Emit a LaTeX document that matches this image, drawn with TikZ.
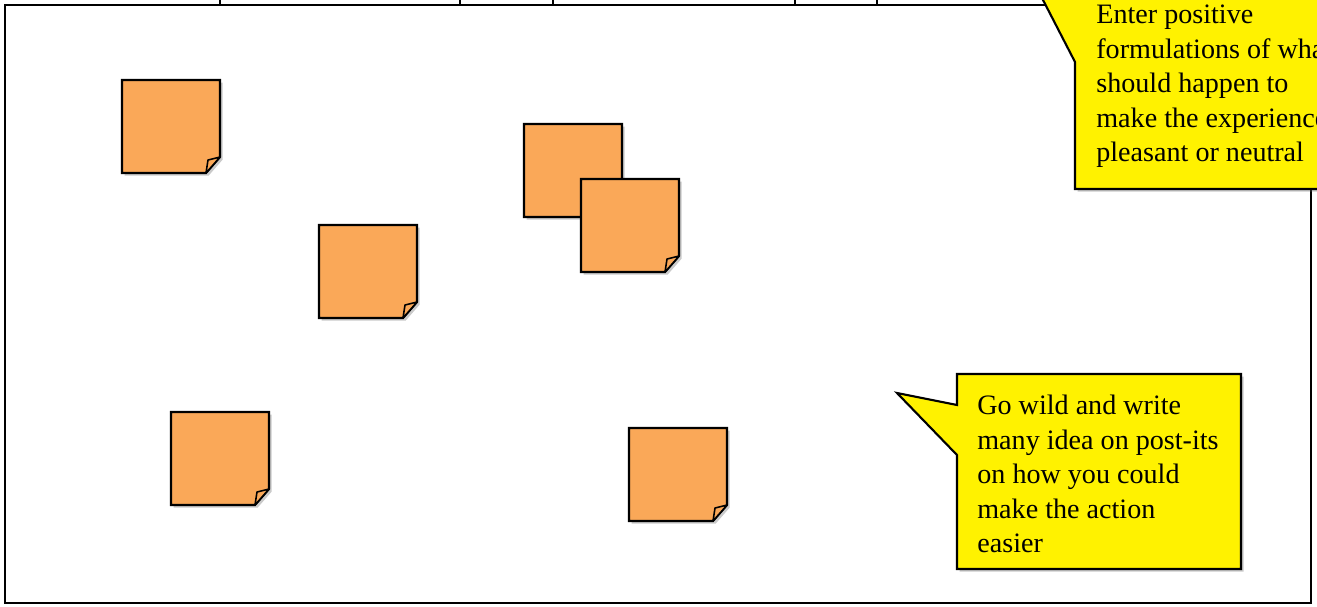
\documentclass[tikz,border=0pt]{standalone}
\usepackage{fontspec}
\setmainfont{Liberation Serif}
\usetikzlibrary{shadows}
\definecolor{postit}{RGB}{250,168,88}
\tikzset{
  softshadow/.style={drop shadow={shadow xshift=1.5pt, shadow yshift=-1.5pt, opacity=0.35, fill=black!60}},
  postit/.pic={
    \filldraw[fill=postit, line width=1.2pt, softshadow] (0,0) -- (98,0) -- (98,77) -- (84,93) -- (0,93) -- cycle;
    \filldraw[fill=postit, line width=0.9pt, line join=round] (84,93) .. controls (85,86) .. (86,80) .. controls (92,78) .. (98,77) -- cycle;
  },
  bubble/.style={fill=yellow, draw, line width=1.2pt, softshadow},
  bubbletext/.style={anchor=north west, inner sep=0pt, align=left, font=\fontsize{16}{19.6}\selectfont}
}
\begin{document}
\begin{tikzpicture}[x=0.02cm, y=-0.02cm]
\useasboundingbox (0,0) rectangle (1317,606);
\draw[line width=1.3pt] (5,5) rectangle (1311,603);
\draw[line width=1.3pt] (220,-10) rectangle (460,5);
\draw[line width=1.3pt] (553,-10) rectangle (795,5);
\draw[line width=1.3pt] (877,-10) rectangle (1073,5);
\pic at (122,80) {postit};
\pic at (524,124) {postit};
\pic at (581,179) {postit};
\pic at (319,225) {postit};
\pic at (171,412) {postit};
\pic at (629,428) {postit};
\filldraw[bubble] (1075,189) -- (1075,62) -- (1010,-64) -- (1075,-40) -- (1340,-40) -- (1340,189) -- cycle;
\node[bubbletext] (tip1) at (1096,5) {Enter positive\\formulations of what\\should happen to\\make the experience\\pleasant or neutral};
\filldraw[bubble] (957,374) -- (1241,374) -- (1241,569) -- (957,569) -- (957,455) -- (897,393) -- (957,405) -- cycle;
\node[bubbletext] (tip2) at (977,395) {Go wild and write\\many idea on post-its\\on how you could\\make the action\\easier};
\end{tikzpicture}
\end{document}
